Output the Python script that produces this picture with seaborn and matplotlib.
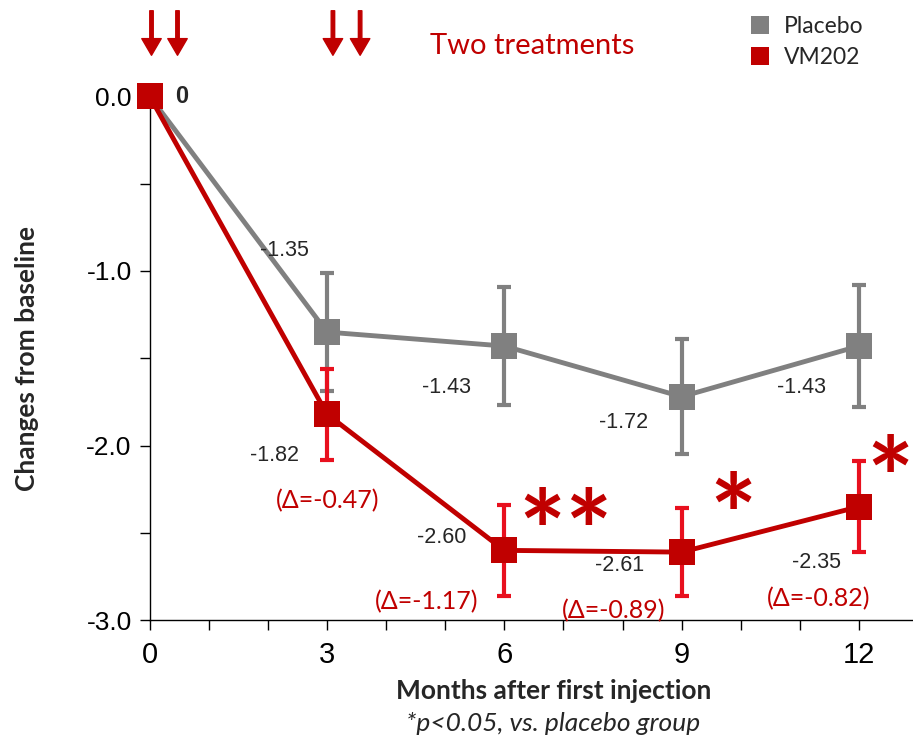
import numpy as np
import pandas as pd
import matplotlib
matplotlib.use("Agg")
import matplotlib.pyplot as plt
import seaborn as sns
from matplotlib.lines import Line2D

# data
months = [0, 3, 6, 9, 12]
placebo = [0, -1.35, -1.43, -1.72, -1.43]
placebo_err = [0, 0.34, 0.34, 0.33, 0.35]
vm202 = [0, -1.82, -2.60, -2.61, -2.35]
vm202_err = [0, 0.26, 0.26, 0.25, 0.26]
deltas = [None, -0.47, -1.17, -0.89, -0.82]
groups = ["Placebo", "VM202"]

GRAY = "#808080"
RED = "#c00000"
RED_ERR = "#e8101e"

df = pd.DataFrame({
    "month": months * 2,
    "value": placebo + vm202,
    "group": [groups[0]] * len(months) + [groups[1]] * len(months),
})

sns.set_style("ticks")
plt.rcParams["font.family"] = ["Liberation Sans", "DejaVu Sans"]

fig = plt.figure(figsize=(9.13, 7.41), dpi=100)
ax = fig.add_axes([0.164, 0.163, 0.835, 0.707])

# error bars under the markers
ax.errorbar(months[1:], placebo[1:], yerr=placebo_err[1:], fmt="none",
            ecolor=GRAY, elinewidth=3, capsize=5, capthick=3, zorder=2)
ax.errorbar(months[1:], vm202[1:], yerr=vm202_err[1:], fmt="none",
            ecolor=RED_ERR, elinewidth=3, capsize=5, capthick=3, zorder=4)

sns.lineplot(data=df, x="month", y="value", hue="group", hue_order=groups,
             palette=[GRAY, RED], marker="s", markersize=19, markeredgewidth=0,
             linewidth=3.5, legend=False, ax=ax, zorder=3)
for ln in ax.lines:
    ln.set_clip_on(False)
ax.lines[-1].set_zorder(5)

ax.set_xlim(0, 12.9)
ax.set_ylim(-3, 0)
ax.set_xticks(range(0, 13))
ax.set_xticklabels([str(m) if m % 3 == 0 else "" for m in range(13)])
ax.set_yticks([0, -0.5, -1, -1.5, -2, -2.5, -3])
ax.set_yticklabels(["0.0", "", "-1.0", "", "-2.0", "", "-3.0"])
ax.tick_params(direction="out", length=7, width=1, colors="black")
ax.tick_params(axis="y", labelsize=19, pad=6)
ax.tick_params(axis="x", labelsize=21, pad=8)
for s in ["top", "right"]:
    ax.spines[s].set_visible(False)
for s in ["left", "bottom"]:
    ax.spines[s].set_linewidth(1)
    ax.spines[s].set_color("black")

ax.set_xlabel("Months after first injection", fontsize=19, fontweight="bold",
              family="Lato")
ax.xaxis.set_label_coords(0.53, -0.112)
ax.set_ylabel("Changes from baseline", fontsize=19, fontweight="bold",
              family="Lato")
ax.yaxis.set_label_coords(-0.145, 0.5)
fig.text(0.606, 0.013, "*p<0.05, vs. placebo group", fontsize=19, style="italic",
         family="Lato", ha="center")

# value labels (offsets in pixels)
plc_off = [(-43, 82), (-58, -41), (-58, -26), (-57, -41)]
vm_off = [(-53, -41), (-63, 13), (-62, -13), (-42, -56)]
dl_off = [(1, -86), (-78, -51), (-68, -59), (-40, -92)]
for i in range(1, 5):
    ax.annotate(f"{placebo[i]:.2f}", (months[i], placebo[i]),
                xytext=plc_off[i - 1], textcoords="offset pixels",
                ha="center", va="center", fontsize=15.5)
    ax.annotate(f"{vm202[i]:.2f}", (months[i], vm202[i]),
                xytext=vm_off[i - 1], textcoords="offset pixels",
                ha="center", va="center", fontsize=15.5)
    ax.annotate(f"(\u0394={deltas[i]:.2f})", (months[i], vm202[i]),
                xytext=dl_off[i - 1], textcoords="offset pixels",
                ha="center", va="center", fontsize=18, color=RED, family="Lato")
ax.annotate("0", (0, 0), xytext=(32, 0), textcoords="offset pixels",
            ha="center", va="center", fontsize=17, fontweight="bold",
            annotation_clip=False)

# significance stars
for x, y, s in [(7.03, -2.54, "**"), (9.86, -2.45, "*"), (12.52, -2.24, "*")]:
    ax.text(x, y, s, fontsize=80, fontweight="bold", color=RED, ha="center",
            va="center", family="Lato")

# treatment arrows
for x in [0.03, 0.47, 3.1, 3.56]:
    ax.annotate("", xy=(x, 0.235), xytext=(x, 0.49), annotation_clip=False,
                arrowprops=dict(facecolor=RED, edgecolor=RED, width=2.5,
                                headwidth=14, headlength=12))
ax.text(6.47, 0.29, "Two treatments", fontsize=21, color=RED, family="Lato",
        ha="center", va="center")

# legend
handles = [Line2D([], [], ls="none", marker="s", markersize=13, color=c,
                  markeredgewidth=0) for c in [GRAY, RED]]
fig.legend(handles, groups, loc="upper left", bbox_to_anchor=(0.79, 1.0),
           frameon=False, prop={"family": "Lato", "size": 16.5},
           handletextpad=0.05, labelspacing=0.45, borderaxespad=0.3)

fig.savefig("out.png", dpi=100)
